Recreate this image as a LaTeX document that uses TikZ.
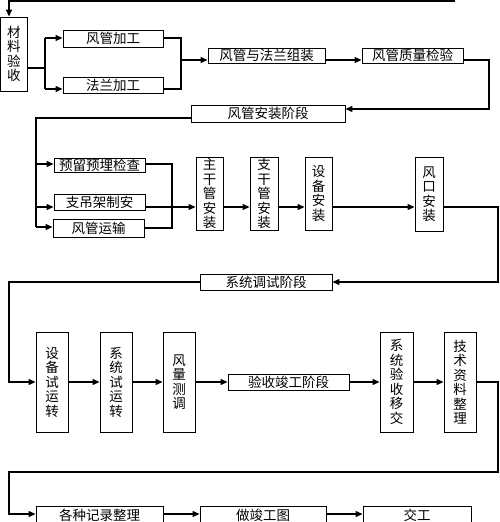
\documentclass[tikz,border=0pt]{standalone}
\usepackage{fontspec}
\setmainfont{Noto Sans CJK SC}
\usetikzlibrary{arrows.meta}
\tikzset{
  box/.style={draw, line width=0.9pt, inner sep=0pt, align=center,
    font=\fontsize{13.5}{14.5}\selectfont},
  conn/.style={line width=1.2pt},
  arr/.style={conn, -{Triangle[length=7pt,width=6pt]}},
  topline/.style={line width=1.8pt, -{Triangle[length=7pt,width=6pt]}},
}
\newcommand\mybox[6]{\node[box, minimum width={#3pt-#2pt}, minimum height={#5pt-#4pt}] (#1) at ({(#2+#3)/2},{(#4+#5)/2}) {#6};}
\begin{document}
\begin{tikzpicture}[x=1pt,y=-1pt]
\useasboundingbox (0,0) rectangle (500,522);
\clip (0,0) rectangle (500,522);
% boxes
\mybox{cl}{0.5}{27}{17}{91}{材\\料\\验\\收}
\mybox{fgjg}{63}{163}{30}{47}{风管加工}
\mybox{flgjg}{63}{163}{77}{93}{法兰加工}
\mybox{zz}{208}{325}{48}{63}{风管与法兰组装}
\mybox{jy}{362}{463}{48}{63}{风管质量检验}
\mybox{azjd}{191}{345}{105}{122}{风管安装阶段}
\mybox{yl}{54}{145}{158}{172}{预留预埋检查}
\mybox{zd}{54}{145}{194}{210}{支吊架制安}
\mybox{ys}{53}{144}{219}{237}{风管运输}
\mybox{zg}{196}{223}{157}{230}{主\\干\\管\\安\\装}
\mybox{zhg}{250}{278}{157}{230}{支\\干\\管\\安\\装}
\mybox{sb}{305}{332}{157}{230}{设\\备\\安\\装}
\mybox{fk}{415}{443}{157}{231}{风\\口\\安\\装}
\mybox{tsjd}{200}{332}{274}{290}{系统调试阶段}
\mybox{sbsy}{36}{68}{332}{432}{设\\备\\试\\运\\转}
\mybox{xtsy}{100}{132}{332}{432}{系\\统\\试\\运\\转}
\mybox{flcd}{163}{195}{332}{432}{风\\量\\测\\调}
\mybox{ysjd}{228}{349}{374}{390}{验收竣工阶段}
\mybox{xtys}{380}{413}{332}{432}{系\\统\\验\\收\\移\\交}
\mybox{jszl}{444}{476}{332}{432}{技\\术\\资\\料\\整\\理}
\mybox{gzjl}{36}{163}{506}{525}{各种记录整理}
\mybox{zjgt}{200}{326}{506}{525}{做竣工图}
\mybox{jg}{363}{471}{506}{525}{交工}
% coordinates
\coordinate (t1) at (455,1);
\coordinate (t2) at (9,1);
\coordinate (s1) at (45,68);
\coordinate (s2) at (45,38);
\coordinate (s3) at (45,89);
\coordinate (m1) at (181,38);
\coordinate (m2) at (181,89);
\coordinate (m3) at (181,60);
\coordinate (r1) at (489,60);
\coordinate (r2) at (489,109);
\coordinate (l1) at (36,118);
\coordinate (l2) at (36,164);
\coordinate (l3) at (36,207);
\coordinate (l4) at (36,227);
\coordinate (n1) at (172,164);
\coordinate (n2) at (172,229);
\coordinate (n3) at (172,228);
\coordinate (h1) at (0,207);
\coordinate (r3) at (498,207);
\coordinate (r4) at (498,282);
\coordinate (l5) at (9,282);
\coordinate (l6) at (9,382);
\coordinate (r5) at (498,382);
\coordinate (r6) at (498,472);
\coordinate (l7) at (9,472);
\coordinate (l8) at (9,514);
% connectors
\draw[topline] (t1) -- (t2) -- (t2 |- cl.north);
\draw[conn] (s1 -| cl.east) -- (s1);
\draw[conn] (s2) -- (s3);
\draw[arr] (s2) -- (s2 -| fgjg.west);
\draw[arr] (s3) -- (s3 -| flgjg.west);
\draw[conn] (fgjg.east |- m1) -- (m1) -- (m2) -- (m2 -| flgjg.east);
\draw[arr] (m3) -- (m3 -| zz.west);
\draw[arr] (zz.east |- m3) -- (jy.west |- m3);
\draw[arr] (jy.east |- r1) -- (r1) -- (r2) -- (r2 -| azjd.east);
\draw[conn] (azjd.west |- l1) -- (l1) -- (l4);
\draw[arr] (l2) -- (l2 -| yl.west);
\draw[arr] (l3) -- (l3 -| zd.west);
\draw[arr] (l4) -- (l4 -| ys.west);
\draw[conn] (yl.east |- n1) -- (n1) -- (n2);
\draw[conn] (ys.east |- n3) -- (n3);
\draw[arr] (zd.east |- h1) -- (zg.west |- h1);
\draw[arr] (zg.east |- h1) -- (zhg.west |- h1);
\draw[arr] (zhg.east |- h1) -- (sb.west |- h1);
\draw[arr] (sb.east |- h1) -- (fk.west |- h1);
\draw[arr] (fk.east |- r3) -- (r3) -- (r4) -- (r4 -| tsjd.east);
\draw[arr] (tsjd.west |- l5) -- (l5) -- (l6) -- (l6 -| sbsy.west);
\draw[arr] (sbsy.east |- l6) -- (xtsy.west |- l6);
\draw[arr] (xtsy.east |- l6) -- (flcd.west |- l6);
\draw[arr] (flcd.east |- l6) -- (ysjd.west |- l6);
\draw[arr] (ysjd.east |- l6) -- (xtys.west |- l6);
\draw[arr] (xtys.east |- l6) -- (jszl.west |- l6);
\draw[arr] (jszl.east |- r5) -- (r5) -- (r6) -- (l7) -- (l8) -- (l8 -| gzjl.west);
\draw[arr] (gzjl.east |- l8) -- (zjgt.west |- l8);
\draw[arr] (zjgt.east |- l8) -- (jg.west |- l8);
\end{tikzpicture}
\end{document}
